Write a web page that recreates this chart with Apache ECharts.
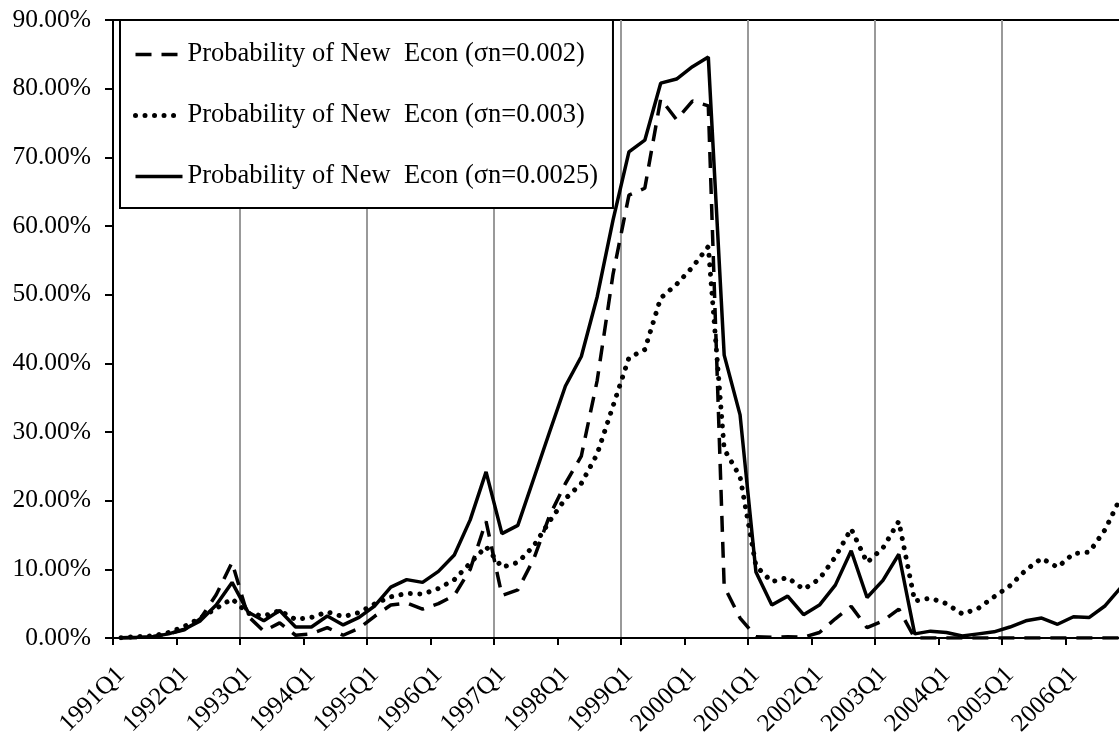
<!DOCTYPE html>
<html>
<head>
<meta charset="utf-8">
<script src="https://cdn.jsdelivr.net/npm/echarts@6/dist/echarts.min.js"></script>
<style>
html, body { margin: 0; padding: 0; background: #fff; }
#chart { width: 1119px; height: 732px; }
</style>
</head>
<body>
<div id="chart"></div>
<script>
// quarters 1991Q1 .. 2006Q4
const years = [1991, 1992, 1993, 1994, 1995, 1996, 1997, 1998, 1999, 2000, 2001, 2002, 2003, 2004, 2005, 2006];
const quarters = ['Q1', 'Q2', 'Q3', 'Q4'];

const seriesNames = [
    'Probability of New  Econ (σn=0.002)',
    'Probability of New  Econ (σn=0.003)',
    'Probability of New  Econ (σn=0.0025)'
];

// values in percent
const prob002 = [
    0.0, 0.05, 0.2, 0.6, 1.2, 2.8, 6.3, 11.0,
    3.2, 1.0, 2.2, 0.4, 0.6, 1.5, 0.4, 1.4,
    3.2, 4.8, 5.1, 4.2, 5.0, 6.2, 10.0, 17.0,
    6.2, 7.0, 11.5, 17.8, 22.5, 26.5, 37.5, 53.0,
    64.5, 65.5, 78.5, 75.5, 78.2, 77.5, 7.5, 2.9,
    0.2, 0.1, 0.2, 0.1, 0.8, 2.8, 4.6, 1.5,
    2.5, 4.2, 0.0, 0.0, 0.0, 0.0, 0.0, 0.0,
    0.0, 0.0, 0.0, 0.0, 0.0, 0.0, 0.0, 0.0
];
const prob003 = [
    0.05, 0.2, 0.3, 0.8, 1.7, 2.9, 4.3, 5.7,
    3.6, 3.2, 4.0, 2.7, 3.0, 3.8, 3.1, 3.7,
    5.0, 6.0, 6.5, 6.4, 7.2, 8.5, 10.9, 13.3,
    10.3, 11.0, 13.4, 17.0, 20.3, 22.5, 26.8, 33.8,
    40.8, 42.0, 49.5, 51.5, 54.0, 57.0, 27.5, 23.5,
    10.5, 8.2, 8.8, 7.1, 8.6, 11.8, 15.9, 11.0,
    13.1, 17.0, 5.4, 5.8, 5.0, 3.5, 4.3, 6.0,
    7.6, 9.9, 11.6, 10.3, 12.3, 12.5, 15.8, 20.6
];
const prob0025 = [
    0.05, 0.1, 0.2, 0.6, 1.3, 2.5, 4.8, 8.1,
    3.8, 2.5, 4.0, 1.6, 1.6, 3.2, 1.9, 3.0,
    4.7, 7.4, 8.5, 8.1, 9.7, 12.1, 17.2, 24.2,
    15.2, 16.4, 23.2, 30.0, 36.7, 41.0, 49.7, 60.9,
    70.8, 72.5, 80.8, 81.4, 83.2, 84.6, 41.2, 32.5,
    9.6, 4.8, 6.1, 3.4, 4.8, 7.7, 12.7, 5.9,
    8.4, 12.2, 0.6, 1.0, 0.8, 0.3, 0.6, 0.9,
    1.6, 2.5, 2.9, 2.0, 3.1, 3.0, 4.7, 7.4
];

let categories = [];
years.forEach((y) => {
    quarters.forEach((q) => {
        categories.push(y + q);
    });
});

const fontFamily = "'Liberation Serif', 'Times New Roman', serif";

let myChart = echarts.init(document.getElementById('chart'));

let option = {
    animation: false,
    backgroundColor: '#fff',
    grid: {
        left: 113,
        top: 20,
        width: 1016,   // runs past the right edge, the picture is cut there
        height: 618,
        show: true,
        borderColor: '#000',
        borderWidth: 2,
        containLabel: false,
        outerBoundsMode: 'none'
    },
    legend: {
        orient: 'vertical',
        left: 120,
        top: 20,
        padding: [21, 15, 18, 13],
        itemGap: 34,
        itemWidth: 47,
        itemHeight: 14,
        backgroundColor: '#fff',
        borderColor: '#000',
        borderWidth: 2,
        borderRadius: 0,
        itemStyle: { opacity: 0 },   // no marker on the legend lines
        lineStyle: { width: 'inherit' },
        textStyle: {
            fontFamily: fontFamily,
            fontSize: 26.5,
            color: '#000'
        },
        data: seriesNames
    },
    xAxis: {
        type: 'category',
        data: categories,
        boundaryGap: true,
        axisLine: { lineStyle: { color: '#000', width: 2 } },
        axisTick: {
            show: true,
            length: 7,
            interval: function (i) { return i % 4 === 0; },
            lineStyle: { color: '#000', width: 2 }
        },
        axisLabel: {
            interval: function (i) { return i % 4 === 0; },
            rotate: 45,
            margin: 33,
            fontFamily: fontFamily,
            fontSize: 25,
            color: '#000'
        },
        splitLine: {
            show: true,
            interval: function (i) { return i % 8 === 0 && i > 0; },
            lineStyle: { color: '#999', width: 2 }
        }
    },
    yAxis: {
        type: 'value',
        min: 0,
        max: 90,
        interval: 10,
        axisLine: { show: true, lineStyle: { color: '#000', width: 2 } },
        axisTick: { show: true, length: 8, lineStyle: { color: '#000', width: 2 } },
        axisLabel: {
            formatter: function (v) { return v.toFixed(2) + '%'; },
            margin: 22,
            fontFamily: fontFamily,
            fontSize: 25.5,
            color: '#000'
        },
        splitLine: { show: false }
    },
    series: [
        {
            name: seriesNames[0],
            type: 'line',
            data: prob002,
            symbol: 'none',
            itemStyle: { color: '#000' },
            lineStyle: { color: '#000', width: 3.5, type: [16, 10] }
        },
        {
            name: seriesNames[1],
            type: 'line',
            data: prob003,
            symbol: 'none',
            itemStyle: { color: '#000' },
            lineStyle: { color: '#000', width: 5, type: [0.01, 9.5], cap: 'round' }
        },
        {
            name: seriesNames[2],
            type: 'line',
            data: prob0025,
            symbol: 'none',
            itemStyle: { color: '#000' },
            lineStyle: { color: '#000', width: 3.5 }
        }
    ]
};

myChart.setOption(option);
</script>
</body>
</html>
